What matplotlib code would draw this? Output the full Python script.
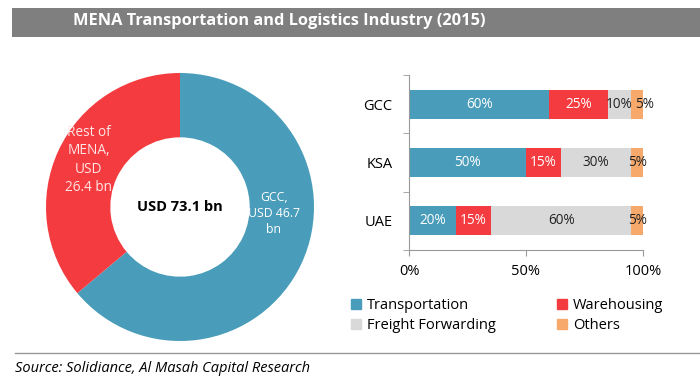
import matplotlib.pyplot as plt
import matplotlib.patches as patches
from matplotlib.lines import Line2D
import numpy as np

plt.rcParams['font.family'] = ['Open Sans', 'DejaVu Sans']

# donut data
regions = ['GCC', 'Rest of MENA']
region_values = [46.7, 26.4]
region_labels = ['GCC,\nUSD 46.7\nbn', 'Rest of\nMENA,\nUSD\n26.4 bn']
total_label = 'USD 73.1 bn'

# stacked bar data
countries = ['GCC', 'KSA', 'UAE']
segments = ['Transportation', 'Warehousing', 'Freight Forwarding', 'Others']
transportation = [60, 50, 20]
warehousing = [25, 15, 15]
freight = [10, 30, 60]
others = [5, 5, 5]

c_blue = '#4a9dba'
c_red = '#f43b3f'
c_gray = '#d9d9d9'
c_orange = '#f6a96b'

W, H = 700, 385
fig = plt.figure(figsize=(7, 3.85), dpi=100)


def box(x0, y0, x1, y1):
    # pixel box (top-down) -> figure fraction
    return [x0 / W, 1 - y1 / H, (x1 - x0) / W, (y1 - y0) / H]


# title bar
fig.patches.append(patches.Rectangle((12 / W, 1 - 37 / H), 1, 29 / H, transform=fig.transFigure,
                                     fc='#7f7f7f', ec='none', zorder=0))
fig.text(73 / W, 1 - 21 / H, 'MENA Transportation and Logistics Industry (2015)', color='white',
         fontsize=11.8, fontweight='bold', va='center', ha='left')

# donut
ax1 = fig.add_axes(box(46, 73, 314, 341))
ax1.pie(region_values, colors=[c_blue, c_red], startangle=90, counterclock=False,
        radius=1, wedgeprops=dict(width=0.48, edgecolor='none'))
ax1.set_xlim(-1, 1)
ax1.set_ylim(-1, 1)
ax1.set_aspect('equal')
ax1.axis('off')
ax1.text(0, 0, total_label, ha='center', va='center', fontsize=10.5, fontweight='bold', color='black')
ax1.text(0.70, -0.045, region_labels[0], ha='center', va='center', fontsize=8.8, color='white',
         linespacing=1.3)
ax1.text(-0.68, 0.35, region_labels[1], ha='center', va='center', fontsize=9.8, color='#ffe6e6',
         linespacing=1.32)

# stacked bars
ax2 = fig.add_axes(box(409, 75, 643, 250))
y = np.arange(len(countries))
series = [transportation, warehousing, freight, others]
colors = [c_blue, c_red, c_gray, c_orange]
txt_colors = ['white', 'white', '#222222', '#222222']
left = np.zeros(len(countries))
for k, (name, vals, col, tc) in enumerate(zip(segments, series, colors, txt_colors)):
    vals = np.array(vals)
    ax2.barh(y, vals, left=left, height=0.5, color=col, label=name)
    for yi, l, v in zip(y, left, vals):
        dx = 0
        # thin "Others" slice next to a thin gray one: push its label right
        if k == 3 and series[2][yi] < 15:
            dx = 5
        ax2.annotate(f'{v}%', (l + v / 2, yi), xytext=(dx, 0), textcoords='offset points',
                     ha='center', va='center', fontsize=9.8, color=tc)
    left = left + vals

ax2.set_xlim(0, 100)
ax2.set_ylim(2.5, -0.5)
ax2.set_xticks([0, 50, 100])
ax2.set_xticklabels(['0%', '50%', '100%'], fontsize=10.5)
ax2.set_yticks(y)
ax2.set_yticklabels(countries, fontsize=10.5)
ax2.set_yticks([-0.5, 0.5, 1.5, 2.5], minor=True)
ax2.tick_params(axis='y', which='major', length=0, pad=12)
ax2.tick_params(axis='y', which='minor', length=4, color='#999999')
ax2.tick_params(axis='x', length=4, color='#999999', pad=6)
for s in ['top', 'right']:
    ax2.spines[s].set_visible(False)
for s in ['left', 'bottom']:
    ax2.spines[s].set_color('#999999')

# legend filled row by row like the reference
order = [0, 2, 1, 3]
handles = [patches.Patch(color=colors[i]) for i in order]
fig.legend(handles, [segments[i] for i in order], ncol=2, loc='upper left',
           bbox_to_anchor=(351 / W, 1 - 298 / H),
           frameon=False, fontsize=10.5, handlelength=0.7, handleheight=0.7, handletextpad=0.4,
           columnspacing=4.2, labelspacing=0.35, borderaxespad=0, borderpad=0)

# bottom line and source
fig.add_artist(Line2D([15 / W, 1], [1 - 353 / H, 1 - 353 / H], color='#999999', lw=1))
fig.text(15 / W, 1 - 368 / H, 'Source: Solidiance, Al Masah Capital Research', fontsize=10.5,
         style='italic', va='center', ha='left', color='black')

fig.savefig('out.png', dpi=100)
